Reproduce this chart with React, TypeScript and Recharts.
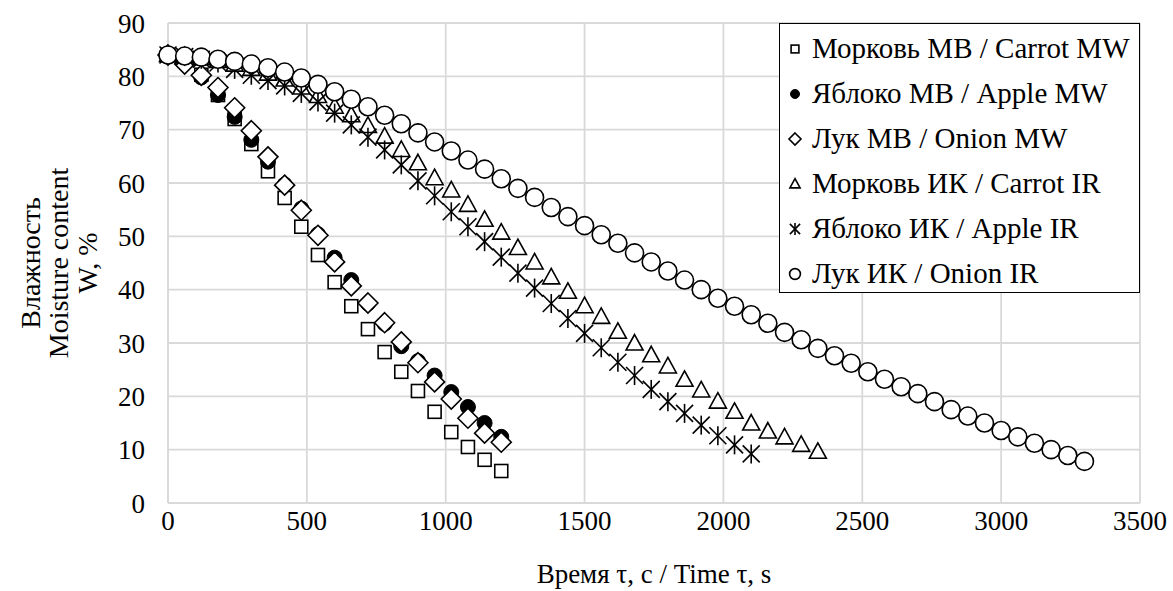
import { ScatterChart, Scatter, XAxis, YAxis, CartesianGrid, Legend } from "recharts";

// time, s (one reading every 60 s)
const timeSec = [
  0, 60, 120, 180, 240, 300, 360, 420, 480, 540, 600, 660, 720, 780, 840, 900,
  960, 1020, 1080, 1140, 1200, 1260, 1320, 1380, 1440, 1500, 1560, 1620, 1680,
  1740, 1800, 1860, 1920, 1980, 2040, 2100, 2160, 2220, 2280, 2340, 2400, 2460,
  2520, 2580, 2640, 2700, 2760, 2820, 2880, 2940, 3000, 3060, 3120, 3180, 3240,
  3300,
];

// moisture content W, %
const carrotMW = [84, 83, 80.3, 76.5, 72, 67.3, 62.2, 57.2, 51.8, 46.5, 41.4, 36.9, 32.6, 28.3, 24.6, 21.0, 17.1, 13.3, 10.5, 8.1, 6.0];
const appleMW = [84, 82.8, 79.8, 76.5, 72.4, 68.1, 64.0, 59.7, 55.2, 50.4, 46.0, 41.8, 37.4, 33.6, 29.4, 26.6, 23.9, 20.8, 18.0, 15.0, 12.4];
const onionMW = [84, 82.3, 80.2, 77.9, 74.1, 69.8, 64.9, 59.6, 54.9, 50.2, 45.2, 40.7, 37.5, 33.8, 30.2, 26.3, 22.7, 19.5, 15.9, 13.1, 11.4];
const carrotIR = [
  84, 83.8, 83.4, 82.9, 82.2, 81.4, 80.5, 79.4, 77.9, 76.3, 74.3, 72.7, 70.7, 68.7,
  66.2, 63.7, 60.9, 58.6, 55.9, 53.1, 50.7, 47.8, 45.1, 42.3, 39.6, 36.9, 34.9,
  32.1, 29.9, 27.7, 25.6, 23.1, 21.1, 19.0, 17.1, 14.9, 13.4, 12.3, 10.9, 9.6,
];
const appleIR = [
  84, 83.7, 83.2, 82.5, 81.3, 80.2, 79.2, 78.2, 76.8, 75.2, 73.1, 70.9, 68.6, 66.2,
  63.4, 60.4, 57.6, 54.6, 51.8, 49.0, 46.1, 43.1, 40.3, 37.4, 34.6, 31.8, 29.1,
  26.4, 23.9, 21.3, 19.0, 16.8, 14.6, 12.6, 10.9, 9.2,
];
const onionIR = [
  84.0, 83.8, 83.6, 83.2, 82.8, 82.3, 81.6, 80.8, 79.7, 78.5, 77.1, 75.7, 74.3,
  72.7, 71.1, 69.4, 67.7, 66.0, 64.3, 62.6, 60.8, 59.0, 57.3, 55.4, 53.7, 52.0,
  50.3, 48.7, 46.9, 45.2, 43.5, 41.8, 40.0, 38.4, 36.9, 35.3, 33.7, 32.0, 30.6,
  29.0, 27.6, 26.2, 24.6, 23.2, 21.8, 20.5, 19.0, 17.5, 16.3, 15.0, 13.6, 12.4,
  11.2, 10.0, 8.9, 7.8,
];

const xTicks = [0, 500, 1000, 1500, 2000, 2500, 3000, 3500];
const yTicks = [0, 10, 20, 30, 40, 50, 60, 70, 80, 90];

const FONT = "Liberation Serif";
const SW = 1.6;

const toPoints = (vals: number[]) => vals.map((y, i) => ({ x: timeSec[i], y }));

type MarkProps = { cx?: number; cy?: number; k?: number };

function SquareMark({ cx = 0, cy = 0, k = 1 }: MarkProps) {
  const h = 6.5 * k;
  return <rect x={cx - h} y={cy - h} width={2 * h} height={2 * h} fill="#fff" stroke="#000" strokeWidth={SW} />;
}
function DotMark({ cx = 0, cy = 0, k = 1 }: MarkProps) {
  return <circle cx={cx} cy={cy} r={7.5 * k} fill="#000" stroke="#000" strokeWidth={1} />;
}
function DiamondMark({ cx = 0, cy = 0, k = 1 }: MarkProps) {
  const r = 10 * k;
  return (
    <polygon
      points={`${cx},${cy - r} ${cx + r},${cy} ${cx},${cy + r} ${cx - r},${cy}`}
      fill="#fff"
      stroke="#000"
      strokeWidth={SW}
    />
  );
}
function TriangleMark({ cx = 0, cy = 0, k = 1 }: MarkProps) {
  const w = 8.5 * k;
  return (
    <polygon
      points={`${cx},${cy - 9 * k} ${cx + w},${cy + 6.5 * k} ${cx - w},${cy + 6.5 * k}`}
      fill="#fff"
      stroke="#000"
      strokeWidth={SW}
    />
  );
}
function StarMark({ cx = 0, cy = 0, k = 1 }: MarkProps) {
  const a = 8.5 * k;
  return (
    <g stroke="#000" strokeWidth={SW}>
      <line x1={cx - a} y1={cy - a} x2={cx + a} y2={cy + a} />
      <line x1={cx - a} y1={cy + a} x2={cx + a} y2={cy - a} />
      <line x1={cx} y1={cy - a - 1} x2={cx} y2={cy + a + 1} />
    </g>
  );
}
function RingMark({ cx = 0, cy = 0, k = 1 }: MarkProps) {
  return <circle cx={cx} cy={cy} r={9 * k} fill="#fff" stroke="#000" strokeWidth={SW} />;
}

const series = [
  { name: "Морковь МВ / Carrot MW", values: carrotMW, Mark: SquareMark },
  { name: "Яблоко МВ / Apple MW", values: appleMW, Mark: DotMark },
  { name: "Лук МВ / Onion MW", values: onionMW, Mark: DiamondMark },
  { name: "Морковь ИК / Carrot IR", values: carrotIR, Mark: TriangleMark },
  { name: "Яблоко ИК / Apple IR", values: appleIR, Mark: StarMark },
  { name: "Лук ИК / Onion IR", values: onionIR, Mark: RingMark },
];

function LegendBox() {
  return (
    <div
      style={{
        width: "100%",
        height: "100%",
        boxSizing: "border-box",
        border: "1.5px solid #000",
        background: "#fff",
        paddingTop: 2,
        fontFamily: FONT,
        fontSize: 29,
        color: "#000",
      }}
    >
      {series.map((s) => (
        <div key={s.name} style={{ height: 45, display: "flex", alignItems: "center" }}>
          <svg width={30} height={20} style={{ flex: "none" }}>
            <s.Mark cx={15} cy={10} k={0.6} />
          </svg>
          <span style={{ marginLeft: 2, whiteSpace: "nowrap", fontFamily: FONT }}>{s.name}</span>
        </div>
      ))}
    </div>
  );
}

function XTitle({ viewBox }: any) {
  const { x, y, width, height } = viewBox;
  return (
    <text x={x + width / 2} y={y + height - 8} textAnchor="middle" style={{ fontFamily: FONT, fontSize: 27 }} fill="#000">
      Время τ, с / Time τ, s
    </text>
  );
}

function YTitle({ viewBox }: any) {
  const cy = viewBox.y + viewBox.height / 2;
  const lines = [
    { t: "Влажность", x: 30 },
    { t: "Moisture content", x: 58 },
    { t: "W, %", x: 87 },
  ];
  return (
    <g>
      {lines.map((l) => (
        <text
          key={l.t}
          x={l.x}
          y={cy}
          transform={`rotate(-90 ${l.x} ${cy})`}
          textAnchor="middle"
          dominantBaseline="central"
          style={{ fontFamily: FONT, fontSize: 28 }}
          fill="#000"
        >
          {l.t}
        </text>
      ))}
    </g>
  );
}

export default function App() {
  const tick = { fontFamily: FONT, fontSize: 27, fill: "#000", style: { fontFamily: FONT } };
  return (
    <div style={{ position: "absolute", left: 0, top: 0, background: "#fff", fontFamily: FONT }}>
      <ScatterChart
        width={1173}
        height={591}
        margin={{ top: 23, right: 33, left: 0, bottom: 0 }}
        style={{ fontFamily: FONT }}
      >
        <CartesianGrid stroke="#d9d9d9" strokeWidth={1.8} />
        <XAxis
          type="number"
          dataKey="x"
          domain={[0, 3500]}
          ticks={xTicks}
          height={88}
          tickLine={false}
          tickMargin={2}
          axisLine={{ stroke: "#d9d9d9", strokeWidth: 1.8 }}
          tick={tick}
          label={<XTitle />}
        />
        <YAxis
          type="number"
          dataKey="y"
          domain={[0, 90]}
          ticks={yTicks}
          width={168}
          tickLine={false}
          tickMargin={17}
          axisLine={{ stroke: "#d9d9d9", strokeWidth: 1.8 }}
          tick={tick}
          label={<YTitle />}
        />
        <Legend
          layout="vertical"
          align="center"
          verticalAlign="middle"
          wrapperStyle={{ left: 779, top: 23, width: 361, height: 270 }}
          content={() => <LegendBox />}
        />
        {series.map((s) => (
          <Scatter
            key={s.name}
            name={s.name}
            data={toPoints(s.values)}
            isAnimationActive={false}
            shape={(p: any) => <s.Mark cx={p.cx} cy={p.cy} />}
          />
        ))}
      </ScatterChart>
    </div>
  );
}
